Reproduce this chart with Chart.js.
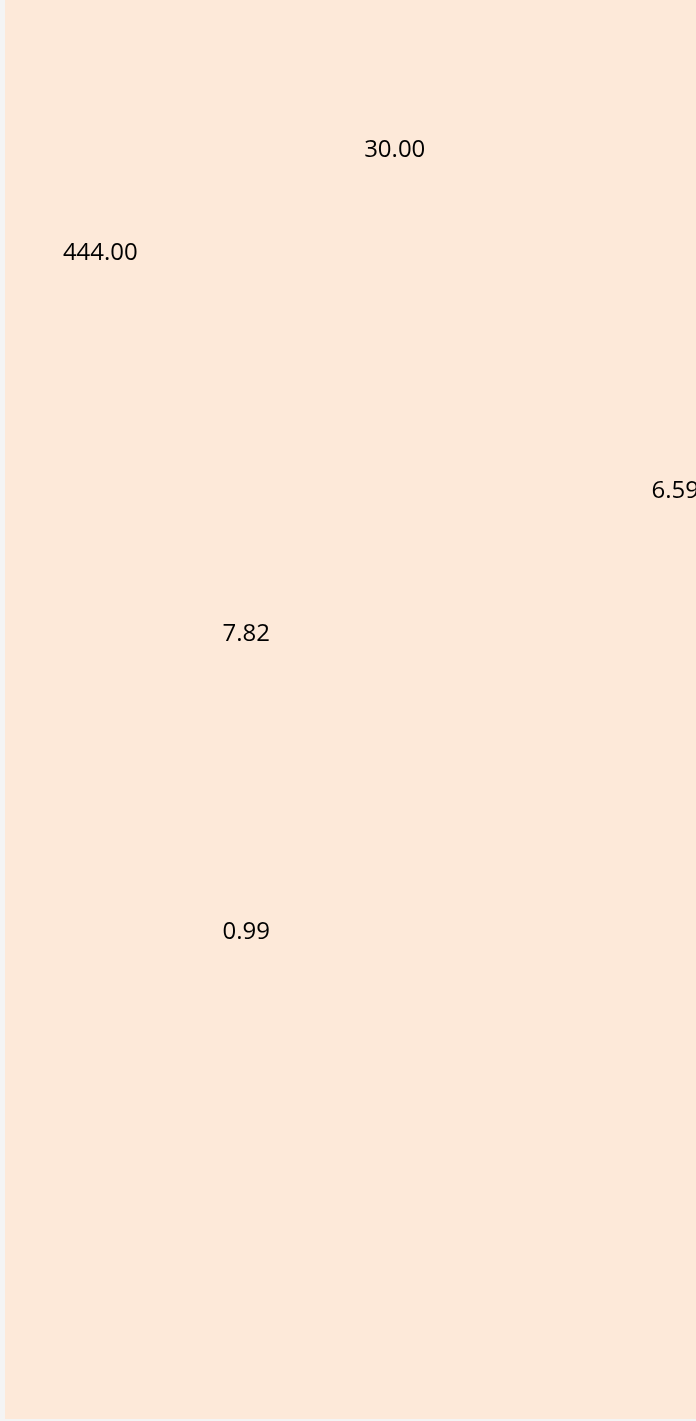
<!DOCTYPE html>
<html>
<head>
<meta charset="utf-8">
<script src="https://cdn.jsdelivr.net/npm/chart.js@4"></script>
<style>
  html, body { margin: 0; padding: 0; background: #f4f4f4; overflow: hidden; }
  #wrap { position: absolute; left: 5px; top: 0; }
</style>
</head>
<body>
<div id="wrap"><canvas id="chart" width="691" height="1421"></canvas></div>
<script>
// values shown as data labels
const values = [30.0, 444.0, 6.59, 7.82, 0.99];
// label positions (percent of the plot area)
const xPos = [56.4, 13.8, 97.0, 34.9, 34.9];
const yPos = [10.6, 17.85, 34.6, 44.7, 65.7];

const points = values.map((v, i) => ({ x: xPos[i], y: yPos[i], v: v }));

const areaBg = {
  id: "areaBg",
  beforeDraw: (chart) => {
    const { ctx, chartArea } = chart;
    ctx.save();
    ctx.fillStyle = "#FDE9D9";
    ctx.fillRect(chartArea.left, chartArea.top, chartArea.width, chartArea.height);
    ctx.restore();
  },
};

const valueLabels = {
  id: "valueLabels",
  afterDatasetsDraw: (chart) => {
    const { ctx } = chart;
    const meta = chart.getDatasetMeta(0);
    ctx.save();
    ctx.font = "24px 'Open Sans'";
    ctx.fillStyle = "#000000";
    ctx.textAlign = "center";
    ctx.textBaseline = "middle";
    meta.data.forEach((pt, i) => {
      ctx.fillText(values[i].toFixed(2), pt.x, pt.y);
    });
    ctx.restore();
  },
};

new Chart("chart", {
  type: "scatter",
  data: {
    datasets: [
      {
        data: points,
        pointRadius: 0,
        pointHoverRadius: 0,
      },
    ],
  },
  options: {
    responsive: false,
    animation: false,
    events: [],
    layout: { padding: { top: 0, left: 0, right: 0, bottom: 2 } },
    plugins: {
      legend: { display: false },
      tooltip: { enabled: false },
      title: { display: false },
    },
    scales: {
      x: { type: "linear", min: 0, max: 100, display: false },
      y: { type: "linear", min: 0, max: 100, reverse: true, display: false },
    },
  },
  plugins: [areaBg, valueLabels],
});
</script>
</body>
</html>
